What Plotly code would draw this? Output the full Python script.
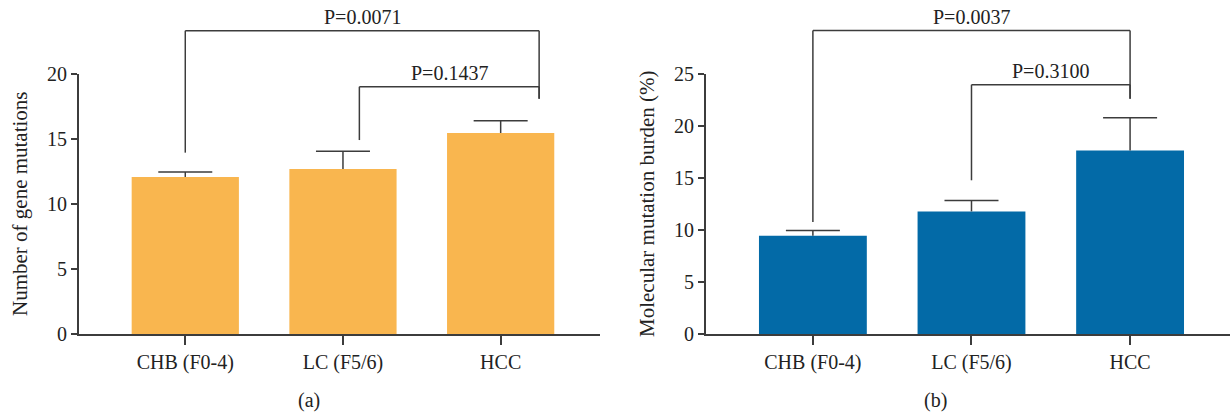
import plotly.graph_objects as go

categories = ["CHB (F0-4)", "LC (F5/6)", "HCC"]
gene_mut_mean = [12.08, 12.69, 15.46]
gene_mut_err = [0.38, 1.36, 0.95]
burden_mean = [9.45, 11.79, 17.65]
burden_err = [0.51, 1.04, 3.14]

# significance brackets: (x_left, x_right, y_top, y_left_end, y_right_end, label)
brackets_a = [
    (0.0, 2.244, 23.33, 13.95, 18.10, "P=0.0071"),
    (1.104, 2.244, 19.02, 14.92, 18.10, "P=0.1437"),
]
brackets_b = [
    (0.0, 2.0, 29.18, 10.76, 22.62, "P=0.0037"),
    (1.0, 2.0, 23.97, 14.78, 22.62, "P=0.3100"),
]

W, H = 1231, 417
FONT = "Liberation Serif"
AX = "#3c3c3c"
TXT = "#222222"
ORANGE = "#F9B64F"
BLUE = "#036AA7"

TOP, BOT = 74, 334  # plot area in px
PH = BOT - TOP

fig = go.Figure()
for data, err, col, xa, ya in [
    (gene_mut_mean, gene_mut_err, ORANGE, "x", "y"),
    (burden_mean, burden_err, BLUE, "x2", "y2"),
]:
    # bars with the error stem
    fig.add_trace(go.Bar(
        x=categories, y=data, marker=dict(color=col, line=dict(width=0)),
        width=0.68, xaxis=xa, yaxis=ya, showlegend=False, hoverinfo="skip",
        error_y=dict(type="data", array=err, arrayminus=[0] * len(err), symmetric=False,
                     color=AX, thickness=1.5, width=0),
    ))
    # cap at the top of each error bar
    fig.add_trace(go.Scatter(
        x=categories, y=[m + e for m, e in zip(data, err)], mode="markers",
        marker=dict(size=1, opacity=0), xaxis=xa, yaxis=ya, showlegend=False,
        hoverinfo="skip",
        error_y=dict(type="data", array=[0] * len(err), arrayminus=[0] * len(err),
                     symmetric=False, color=AX, thickness=1.5, width=27),
    ))

xr = [-0.674, 2.63]
common_x = dict(type="category", range=xr, showline=True, linecolor=AX, linewidth=2,
                ticks="outside", ticklen=9, tickwidth=1.5, tickcolor=AX,
                tickfont=dict(family=FONT, size=20, color=TXT), showgrid=False,
                zeroline=False, fixedrange=True)
common_y = dict(showline=True, linecolor=AX, linewidth=2, ticks="outside", ticklen=6,
                tickwidth=1.5, tickcolor=AX, tickfont=dict(family=FONT, size=20, color=TXT),
                showgrid=False, zeroline=False, dtick=5, domain=[0, 1], fixedrange=True)

dom_a = [79 / W, 600 / W]
dom_b = [706 / W, 1230 / W]
ymax_a, ymax_b = 20, 25

fig.update_layout(
    width=W, height=H,
    margin=dict(l=0, r=0, t=TOP, b=H - BOT),
    paper_bgcolor="white", plot_bgcolor="white",
    xaxis=dict(common_x, domain=dom_a, anchor="y"),
    yaxis=dict(common_y, range=[0, ymax_a], anchor="x"),
    xaxis2=dict(common_x, domain=dom_b, anchor="y2"),
    yaxis2=dict(common_y, range=[0, ymax_b], anchor="x2"),
)

shapes = []
annotations = []
for brs, xref, yref, ymax in [(brackets_a, "x", "y domain", ymax_a),
                               (brackets_b, "x2", "y2 domain", ymax_b)]:
    for xl, xrt, yt, yl, yre, lab in brs:
        ln = dict(color=AX, width=1.5)
        shapes.append(dict(type="line", xref=xref, yref=yref, x0=xl, x1=xrt,
                           y0=yt / ymax, y1=yt / ymax, line=ln))
        shapes.append(dict(type="line", xref=xref, yref=yref, x0=xl, x1=xl,
                           y0=yl / ymax, y1=yt / ymax, line=ln))
        shapes.append(dict(type="line", xref=xref, yref=yref, x0=xrt, x1=xrt,
                           y0=yre / ymax, y1=yt / ymax, line=ln))
        annotations.append(dict(xref=xref, yref=yref, x=(xl + xrt) / 2, y=yt / ymax,
                                text=lab, showarrow=False, xanchor="center",
                                yanchor="middle", yshift=14, borderpad=0,
                                font=dict(family=FONT, size=20, color=TXT)))

# x-axis lines extend slightly left past the y-axes
for d in (dom_a, dom_b):
    shapes.append(dict(type="line", xref="paper", yref="paper", x0=d[0] - 6 / W, x1=d[0],
                       y0=0, y1=0, line=dict(color=AX, width=2)))

# axis titles
annotations.append(dict(xref="paper", yref="paper", x=20 / W, y=0.5, textangle=-90,
                        text="Number of gene mutations", showarrow=False,
                        xanchor="center", yanchor="middle",
                        font=dict(family=FONT, size=21, color=TXT)))
annotations.append(dict(xref="paper", yref="paper", x=647 / W, y=0.5, textangle=-90,
                        text="Molecular mutation burden (%)", showarrow=False,
                        xanchor="center", yanchor="middle",
                        font=dict(family=FONT, size=21, color=TXT)))
# panel labels
for lab, xc in [("(a)", 309), ("(b)", 935)]:
    annotations.append(dict(xref="paper", yref="paper", x=xc / W,
                            y=(BOT - 400) / PH,
                            text=lab, showarrow=False, xanchor="center", yanchor="middle",
                            font=dict(family=FONT, size=20, color=TXT)))

fig.update_layout(shapes=shapes, annotations=annotations, hovermode=False)
fig.write_html("out.html", config={"displayModeBar": False},
               post_script="document.body.style.margin='0';document.body.style.overflow='hidden';")
